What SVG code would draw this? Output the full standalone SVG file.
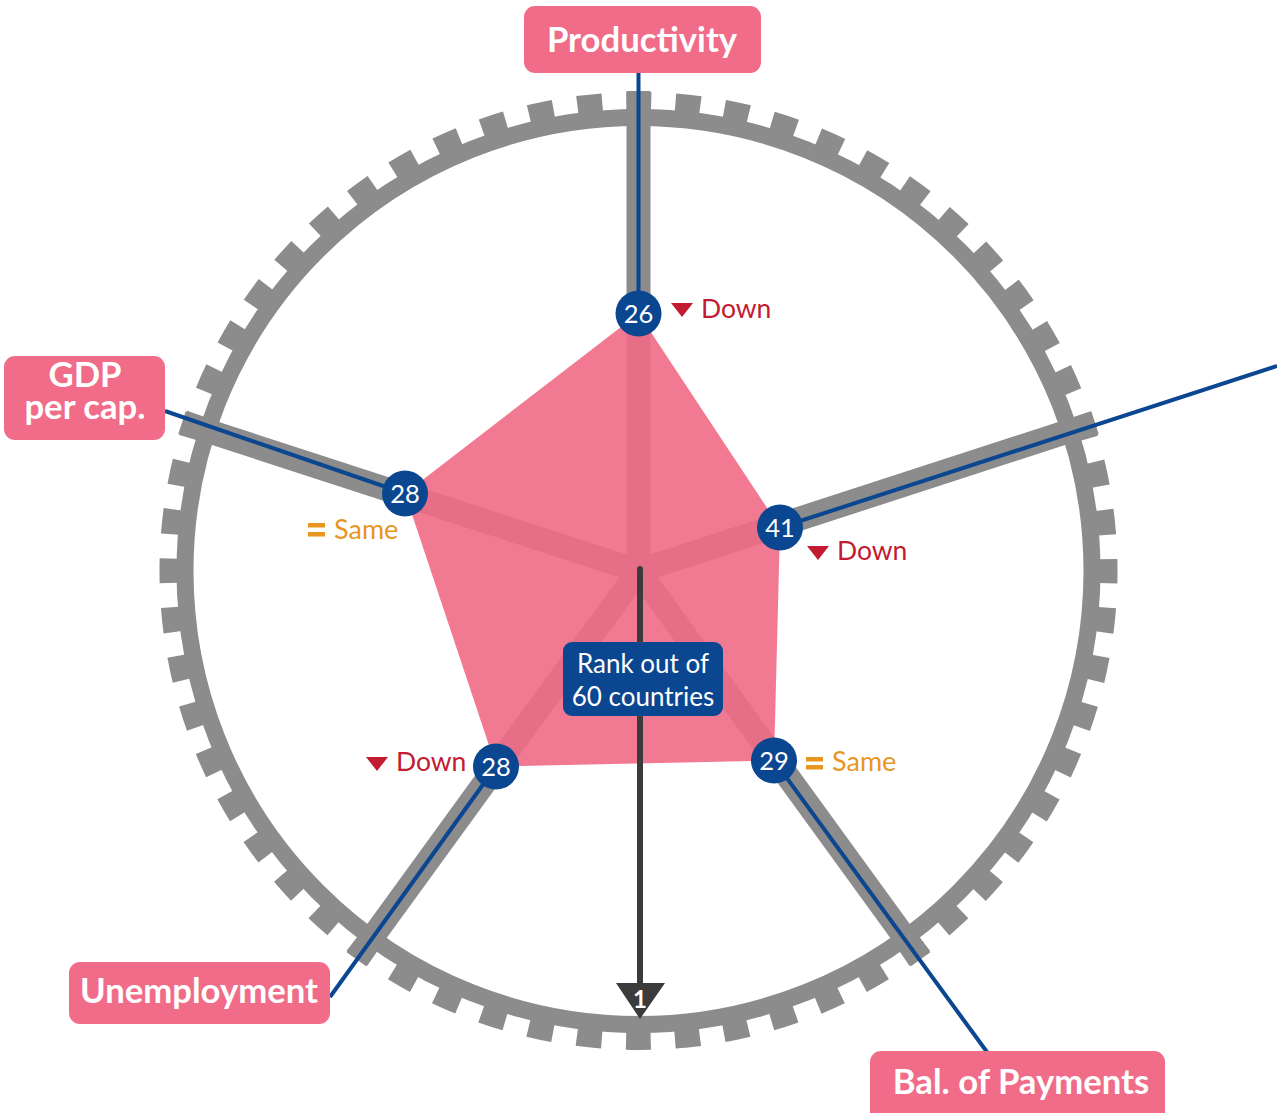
<svg xmlns="http://www.w3.org/2000/svg" width="1277" height="1113" viewBox="0 0 1277 1113">
  <style>
    .ring { fill: none; stroke: #8c8c8c; }
    .spoke { stroke: #8c8c8c; stroke-width: 24; stroke-linecap: butt; }
    .lead { stroke: #0b4690; stroke-width: 4; fill: none; }
    .node circle { fill: #0b4690; }
    .num { font-family: "Lato", "Open Sans", sans-serif; font-size: 25.5px; fill: #ffffff; text-anchor: middle; }
    .label rect { fill: #f06c88; }
    .label text { font-family: "Lato", "Open Sans", sans-serif; font-weight: bold; font-size: 34.7px; fill: #ffffff; text-anchor: middle; }
    .down { font-family: "Lato", "Open Sans", sans-serif; font-size: 26.5px; fill: #c21b32; }
    .down-mark { fill: #c21b32; }
    .same { font-family: "Lato", "Open Sans", sans-serif; font-size: 27px; fill: #e8961f; }
    .same-mark { fill: #e8961f; }
  </style>

  <rect x="0" y="0" width="1277" height="1113" fill="#ffffff"/>

  <!-- Scale ring: band plus 60 teeth, one per rank -->
  <g id="scale-ring">
    <circle class="ring" cx="638.5" cy="571" r="453.5" stroke-width="17"/>
    <circle class="ring" cx="638.5" cy="571" r="470" stroke-width="18" stroke-dasharray="25 24.218" stroke-dashoffset="12.5"/>
  </g>

  <!-- Axis spokes -->
  <g id="spokes">
    <line class="spoke" x1="638.5" y1="571" x2="638.5" y2="91"/>
    <line class="spoke" x1="638.5" y1="571" x2="1095" y2="422.7"/>
    <line class="spoke" x1="638.5" y1="571" x2="920.6" y2="959.3"/>
    <line class="spoke" x1="638.5" y1="571" x2="356.4" y2="959.3"/>
    <line class="spoke" x1="638.5" y1="571" x2="182" y2="422.7"/>
  </g>

  <!-- Ranking area -->
  <g id="rank-area">
    <polygon points="638.5,313.5 780,527.5 774,760.5 496,766.5 405,493.5" fill="#ef6a85" fill-opacity="0.9"/>
  </g>

  <!-- Rank direction arrow -->
  <g id="rank-arrow">
    <line x1="640" y1="569" x2="640" y2="990" stroke="#3b3b3b" stroke-width="6" stroke-linecap="round"/>
    <polygon points="616,983 665,983 640,1019" fill="#3b3b3b"/>
    <text x="640" y="1008" font-family="Lato, 'Open Sans', sans-serif" font-weight="bold" font-size="24" fill="#ffffff" text-anchor="middle">1</text>
  </g>

  <!-- Leader lines from values to axis labels -->
  <g id="connectors">
    <line class="lead" x1="638.5" y1="313.5" x2="638.5" y2="73"/>
    <line class="lead" x1="780" y1="527.5" x2="1277" y2="366"/>
    <line class="lead" x1="774" y1="760.5" x2="987" y2="1052"/>
    <line class="lead" x1="496" y1="766.5" x2="330" y2="997"/>
    <line class="lead" x1="405" y1="493.5" x2="165" y2="411"/>
  </g>

  <!-- Centre legend -->
  <g id="legend">
    <rect x="563" y="642" width="160" height="74" rx="9" fill="#0b4690"/>
    <text font-family="Lato, 'Open Sans', sans-serif" font-size="26" fill="#ffffff" text-anchor="middle"><tspan x="643" y="673">Rank out of</tspan><tspan x="643" y="706">60 countries</tspan></text>
  </g>

  <!-- Value nodes -->
  <g id="node-productivity" class="node">
    <circle cx="638.5" cy="313.5" r="23"/>
    <text class="num" x="638.5" y="322.5">26</text>
    <polygon class="down-mark" points="671,303 693,303 682,317"/>
    <text class="down" x="701" y="318">Down</text>
  </g>
  <g id="node-right" class="node">
    <circle cx="780" cy="527.5" r="23"/>
    <text class="num" x="780" y="536.5">41</text>
    <polygon class="down-mark" points="807,546 829,546 818,560"/>
    <text class="down" x="837" y="560">Down</text>
  </g>
  <g id="node-bal-payments" class="node">
    <circle cx="774" cy="760.5" r="23"/>
    <text class="num" x="774" y="769.5">29</text>
    <rect class="same-mark" x="806" y="757" width="17" height="4.5"/>
    <rect class="same-mark" x="806" y="765" width="17" height="4.5"/>
    <text class="same" x="832" y="771">Same</text>
  </g>
  <g id="node-unemployment" class="node">
    <circle cx="496" cy="766.5" r="23"/>
    <text class="num" x="496" y="775.5">28</text>
    <polygon class="down-mark" points="366,757 388,757 377,771"/>
    <text class="down" x="396" y="771">Down</text>
  </g>
  <g id="node-gdp" class="node">
    <circle cx="405" cy="493.5" r="23"/>
    <text class="num" x="405" y="502.5">28</text>
    <rect class="same-mark" x="308" y="523" width="17" height="4.5"/>
    <rect class="same-mark" x="308" y="532" width="17" height="4.5"/>
    <text class="same" x="334" y="539">Same</text>
  </g>

  <!-- Axis labels -->
  <g id="label-productivity" class="label">
    <rect x="524" y="6" width="237" height="67" rx="11"/>
    <text x="642" y="52">Productivity</text>
  </g>
  <g id="label-gdp" class="label">
    <rect x="4" y="356" width="161" height="84" rx="11"/>
    <text font-size="32"><tspan x="85" y="387">GDP</tspan><tspan x="85" y="419">per cap.</tspan></text>
  </g>
  <g id="label-unemployment" class="label">
    <rect x="69" y="962" width="261" height="62" rx="11"/>
    <text x="199" y="1003">Unemployment</text>
  </g>
  <g id="label-bal-payments" class="label">
    <rect x="870" y="1051" width="295" height="75" rx="11"/>
    <text x="1021" y="1094">Bal. of Payments</text>
  </g>
</svg>
